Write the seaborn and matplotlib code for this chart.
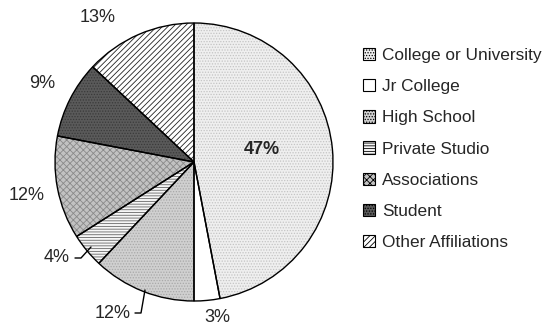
import matplotlib
matplotlib.use("Agg")
import matplotlib.pyplot as plt
import matplotlib.patches as mpatches
import seaborn as sns

sns.set_theme(style="white")
plt.rcParams["font.family"] = ["Liberation Sans", "DejaVu Sans"]
plt.rcParams["hatch.linewidth"] = 0.6

categories = ["College or University", "Jr College", "High School",
              "Private Studio", "Associations", "Student", "Other Affiliations"]
shares = [47, 3, 12, 4, 12, 9, 13]
pct_labels = ["47%", "3%", "12%", "4%", "12%", "9%", "13%"]

# fill colour, hatch pattern, hatch colour per slice
styles = [
    ("#efefef", "......", "#c4c4c4"),
    ("#ffffff", "", "#ffffff"),
    ("#d0d0d0", "......", "#a8a8a8"),
    ("#f6f6f6", "------", "#666666"),
    ("#c2c2c2", "xxxxx", "#8a8a8a"),
    ("#5a5a5a", "......", "#3a3a3a"),
    ("#ffffff", "//////", "#222222"),
]

fig = plt.figure(figsize=(5.51, 3.29), dpi=100)
R = 139
cx, cy = 194, 162
ax = fig.add_axes([(cx - R) / 551, (329 - cy - R) / 329, 2 * R / 551, 2 * R / 329])

# textured fills
wedges, _ = ax.pie(shares, startangle=90, counterclock=False, radius=1,
                   wedgeprops=dict(linewidth=0))
for w, (fc, hatch, hc) in zip(wedges, styles):
    w.set_facecolor(fc)
    w.set_edgecolor(hc)
    w.set_hatch(hatch)

# outlines
ax.pie(shares, startangle=90, counterclock=False, radius=1,
       wedgeprops=dict(fill=False, edgecolor="black", linewidth=1.0))
ax.set_xlim(-1.0, 1.0)
ax.set_ylim(-1.0, 1.0)
ax.set_aspect("equal")
ax.axis("off")


def to_data(px, py):
    return (px - cx) / R, (cy - py) / R


label_pos = [(262, 150), (217, 318), (113, 313), (57, 258), (27, 195), (42, 83), (98, 17)]
for text, (px, py) in zip(pct_labels, label_pos):
    x, y = to_data(px, py)
    weight = "bold" if text == "47%" else "normal"
    ax.text(x, y, text, ha="center", va="center", fontsize=13, fontweight=weight,
            clip_on=False)

# leader lines for the two small labels at the bottom left
for pts in ([(145, 290), (141, 313), (135, 313)], [(91, 247), (81, 258), (75, 258)]):
    xs, ys = zip(*[to_data(px, py) for px, py in pts])
    ax.plot(xs, ys, color="black", linewidth=1.0, clip_on=False)

handles = []
for name, (fc, hatch, hc) in zip(categories, styles):
    handles.append(mpatches.Patch(facecolor=fc, edgecolor="black", hatch=hatch,
                                  linewidth=0.8, label=name))
fig.legend(handles=handles, loc="upper left", bbox_to_anchor=(356 / 551, 1 - 41 / 329),
           frameon=False, fontsize=12.4, handlelength=0.72, handleheight=0.72,
           handletextpad=0.4, labelspacing=0.93, borderaxespad=0)

fig.savefig("out.png", dpi=100)
